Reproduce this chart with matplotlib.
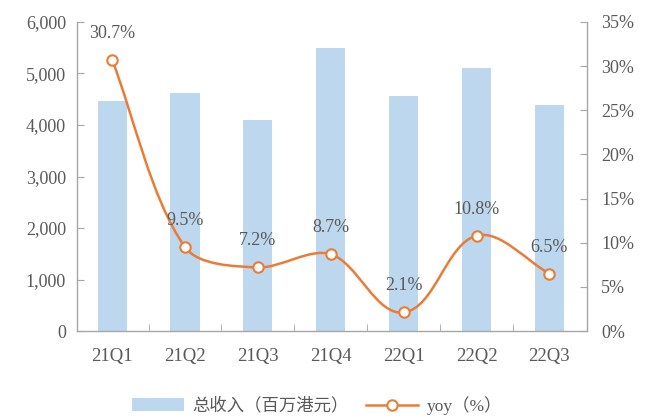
import matplotlib.pyplot as plt
import numpy as np
from matplotlib.path import Path
from matplotlib.patches import PathPatch
from matplotlib.lines import Line2D
from matplotlib.patches import Patch
from matplotlib.ticker import FuncFormatter, FixedLocator

quarters = ["21Q1", "21Q2", "21Q3", "21Q4", "22Q1", "22Q2", "22Q3"]
revenue = [4470, 4630, 4100, 5490, 4560, 5100, 4390]  # 百万港元
yoy = [30.7, 9.5, 7.2, 8.7, 2.1, 10.8, 6.5]  # %

BAR_BLUE = "#bdd7ee"
LINE_ORANGE = "#e97c36"
TEXT_GREY = "#595959"
AXIS_GREY = "#a6a6a6"

plt.rcParams["font.family"] = ["Liberation Serif", "Noto Sans CJK SC", "DejaVu Sans"]
plt.rcParams["font.size"] = 13


def smooth_path(xs, ys, sx=73.0, sy=309.0 / 35.0, k=0.3):
    """Bezier path through the points; tangents are worked out in pixel-like
    units so the curve bends the way a smoothed office chart line does."""
    pts = np.column_stack([np.asarray(xs, float) * sx, np.asarray(ys, float) * sy])
    n = len(pts)
    verts = [pts[0]]
    codes = [Path.MOVETO]

    def tangent(i):
        d = pts[min(i + 1, n - 1)] - pts[max(i - 1, 0)]
        return d / np.hypot(*d)

    for i in range(n - 1):
        p1, p2 = pts[i], pts[i + 1]
        seg = np.hypot(*(p2 - p1))
        c1 = p1 + tangent(i) * seg * k
        c2 = p2 - tangent(i + 1) * seg * k
        verts += [c1, c2, p2]
        codes += [Path.CURVE4] * 3
    verts = np.array(verts) / [sx, sy]
    return Path(verts, codes)


fig = plt.figure(figsize=(6.54, 4.19), dpi=100)
ax = fig.add_axes([0.118, 0.21, 0.78, 0.7375])
ax2 = ax.twinx()

x = np.arange(len(quarters))
ax.bar(x, revenue, width=0.4, color=BAR_BLUE, zorder=1)
ax.set_xlim(-0.48, len(quarters) - 0.48)
ax.set_ylim(0, 6000)
ax.set_yticks(np.arange(0, 6001, 1000))
ax.yaxis.set_major_formatter(FuncFormatter(lambda v, _: f"{int(v):,}"))
ax.set_xticks(x)
ax.set_xticklabels(quarters, fontsize=13.5)
ax.xaxis.set_minor_locator(FixedLocator(x[:-1] + 0.5))

ax2.set_ylim(0, 35)
ax2.set_yticks(np.arange(0, 36, 5))
ax2.yaxis.set_major_formatter(FuncFormatter(lambda v, _: f"{int(v)}%"))

ax2.add_patch(PathPatch(smooth_path(x, yoy), facecolor="none",
                        edgecolor=LINE_ORANGE, lw=1.8, zorder=3))
ax2.plot(x, yoy, linestyle="none", marker="o", ms=7.5, mfc="white",
         mec=LINE_ORANGE, mew=1.5, zorder=4)
for xi, v in zip(x, yoy):
    ax2.annotate(f"{v}%", (xi, v), xytext=(0, 13), textcoords="offset points",
                 ha="center", va="bottom", color=TEXT_GREY, fontsize=13)

for a in (ax, ax2):
    a.spines["top"].set_visible(False)
    for s in ("left", "right", "bottom"):
        a.spines[s].set_color(AXIS_GREY)
        a.spines[s].set_linewidth(1.0)
    a.tick_params(axis="both", which="both", direction="in", colors=AXIS_GREY,
                  labelcolor=TEXT_GREY, labelsize=13)
ax.tick_params(axis="x", which="major", length=0, pad=12, labelsize=13.5)
ax.tick_params(axis="x", which="minor", length=5)
ax.tick_params(axis="y", length=5, pad=8)
ax2.tick_params(axis="y", length=5, pad=10)
ax2.spines["left"].set_visible(False)
ax2.spines["bottom"].set_visible(False)
ax.spines["right"].set_visible(False)

handles = [
    Patch(facecolor=BAR_BLUE, edgecolor="none"),
    Line2D([0], [0], color=LINE_ORANGE, lw=1.8, marker="o", ms=7.5,
           mfc="white", mec=LINE_ORANGE, mew=1.5),
]
labels = ["总收入（百万港元）", "yoy（%）"]
fig.legend(handles, labels, loc="center", bbox_to_anchor=(0.485, 0.033), ncol=2,
           frameon=False, fontsize=12.5, labelcolor=TEXT_GREY,
           handlelength=3.0, columnspacing=1.0, handletextpad=0.5)

fig.savefig("out.png", dpi=100)
